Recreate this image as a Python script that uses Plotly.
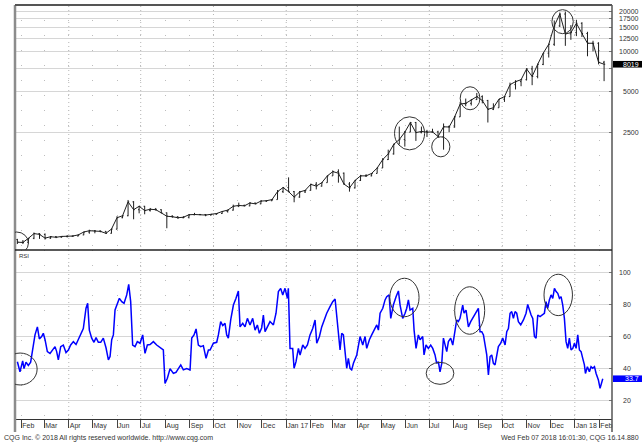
import numpy as np
import pandas as pd
import plotly.graph_objects as go

# ---------------- Bitcoin weekly bars (mid-week dates) ----------------
week_first = "2016-01-27"
price_open = [395, 378, 376, 404, 438, 432, 405, 415, 411, 417, 418, 420, 428, 450, 460, 458, 455, 440, 473, 575,
              595, 755, 660, 700, 650, 665, 660, 625, 590, 585, 575, 580, 605, 608, 608, 602, 610, 618, 640, 655,
              700, 710, 705, 740, 730, 765, 770, 785, 900, 965, 900, 820, 895, 920, 1020, 990, 1050, 1180, 1270, 1235,
              1025, 960, 1090, 1180, 1180, 1230, 1350, 1560, 1720, 2030, 2200, 2500, 2950, 2480, 2530, 2500, 2510, 2320,
              2740, 2730, 3250, 4050, 4100, 4370, 4600, 4300, 3700, 3800, 4400, 4600, 5650, 5950, 6150, 7400, 6500,
              8000, 9700, 11300, 15500, 19000, 13500, 13800, 16200, 13600, 11500, 11500, 8300]
price_high = [400, 392, 406, 446, 441, 439, 420, 420, 420, 425, 425, 432, 452, 468, 465, 462, 458, 475, 590, 600,
              780, 765, 705, 705, 680, 680, 665, 630, 600, 590, 590, 612, 625, 612, 612, 612, 620, 645, 660, 720,
              745, 720, 750, 745, 775, 775, 790, 925, 975, 1150, 910, 910, 925, 1030, 1060, 1050, 1190, 1290, 1320, 1250,
              1060, 1100, 1200, 1215, 1240, 1360, 1600, 1850, 2050, 2750, 2550, 2980, 2980, 2750, 2600, 2650, 2560, 2900,
              2800, 3300, 4200, 4450, 4400, 4900, 4700, 4350, 4100, 4400, 4650, 5850, 6100, 6200, 7500, 7800, 8100,
              9700, 11400, 17000, 19500, 19800, 15700, 17200, 16500, 14000, 12000, 11700, 8500]
price_low = [366, 366, 370, 398, 400, 395, 400, 405, 408, 410, 415, 418, 426, 437, 440, 448, 435, 438, 470, 570,
             590, 560, 620, 610, 640, 650, 620, 480, 575, 565, 570, 568, 600, 600, 590, 598, 605, 615, 628, 650,
             690, 700, 700, 725, 725, 755, 765, 785, 880, 890, 750, 810, 880, 915, 935, 980, 1050, 1180, 1050, 1010,
             900, 950, 1080, 1160, 1170, 1230, 1350, 1550, 1700, 2030, 1950, 2500, 2150, 2450, 2300, 2480, 2270, 1850,
             2500, 2700, 3250, 3900, 3950, 4350, 4100, 2950, 3650, 3800, 4200, 4600, 5200, 5500, 6100, 5600, 6300,
             7900, 9000, 11000, 15200, 11000, 12200, 13000, 12800, 9200, 10000, 8000, 6000]
price_close = [378, 376, 404, 438, 432, 405, 415, 411, 417, 418, 420, 428, 450, 460, 458, 455, 440, 473, 575, 595,
               755, 660, 700, 650, 665, 660, 625, 590, 585, 575, 580, 605, 608, 608, 602, 610, 618, 640, 655, 700,
               710, 705, 740, 730, 765, 770, 785, 900, 965, 900, 820, 895, 920, 1020, 990, 1050, 1180, 1270, 1235, 1025,
               960, 1090, 1180, 1180, 1230, 1350, 1560, 1720, 2030, 2200, 2500, 2950, 2480, 2530, 2500, 2510, 2320, 2740,
               2730, 3250, 4050, 4100, 4370, 4600, 4300, 3700, 3800, 4400, 4600, 5650, 5950, 6150, 7400, 6500, 8000,
               9700, 11300, 15500, 19000, 13500, 13800, 16200, 13600, 11500, 11500, 8300, 8019]

# ---------------- RSI (days counted from 24 Jan 2016) ----------------
rsi_origin = "2016-01-24"
rsi_day = [3.0, 6.3, 9.7, 11.4, 13.9, 16.9, 19.8, 22.4, 25.3, 28.3, 30.8, 33.7, 35.8, 38.0, 40.9, 44.3, 47.6, 50.6,
           52.7, 54.8, 57.8, 61.1, 64.5, 67.5, 70.4, 73.8, 77.2, 80.1, 83.1, 86.4, 89.8, 91.9, 94.0, 97.0, 99.9, 102.5,
           105.4, 108.4, 111.7, 115.1, 118.1, 120.2, 122.3, 124.4, 126.5, 128.6, 132.0, 135.0, 137.9, 141.3, 143.8,
           146.3, 148.8, 151.8, 154.7, 158.1, 161.5, 164.4, 167.4, 170.8, 175.0, 179.2, 183.4, 187.6, 189.7, 192.7,
           196.1, 200.3, 203.6, 206.6, 209.6, 212.9, 217.1, 221.4, 223.5, 226.4, 229.0, 231.9, 234.9, 238.2, 241.6,
           244.6,
           246.7, 250.9, 255.1, 257.2, 260.1, 262.7, 265.6, 267.7, 269.8, 272.8, 276.2, 279.5, 282.5, 284.6, 288.0,
           290.9, 293.9, 297.2, 300.6, 303.6, 306.5, 309.0, 312.0, 314.1, 316.2, 319.2, 322.5, 326.8, 330.1, 333.1,
           336.0, 338.6, 341.5, 344.5, 345.7, 347.8, 351.2, 352.9, 355.4, 358.4, 360.5, 363.9, 366.8, 369.8, 373.1,
           376.5, 379.5, 381.6, 385.0, 387.9, 390.9, 394.2, 398.4, 401.8, 404.8, 406.9, 409.0, 411.1, 413.2, 415.3,
           417.4, 419.5, 421.6, 423.7, 425.8, 428.0, 432.2, 434.3, 436.4, 439.8, 442.7, 444.8, 448.2, 451.1, 454.1,
           457.5, 459.6, 461.7, 465.1, 468.0, 470.1, 473.1, 475.2, 478.5, 481.9, 484.9, 487.0, 490.3, 493.3, 495.4,
           497.5,
           499.6, 503.0, 504.7, 507.2, 510.1, 512.3, 515.6, 517.3, 519.8, 522.8, 525.7, 528.3, 531.2, 533.3, 535.4,
           537.5, 539.7, 541.8, 543.9, 546.0, 548.1, 551.0, 553.6, 555.3, 558.6, 560.7, 562.8, 566.2, 567.9, 570.4,
           573.4, 576.3, 579.7, 582.7, 586.0, 588.1, 590.3, 592.4, 594.5, 596.6, 598.7, 600.8, 602.9, 605.0, 607.1,
           609.2, 611.3, 614.3, 616.8, 619.8, 621.9, 624.0, 626.1, 628.2, 630.3, 632.4, 634.5, 636.6, 639.6, 643.0,
           646.3, 648.4, 650.5, 652.7, 654.8, 656.9, 659.0, 661.1, 664.0, 667.4, 669.5, 671.6, 673.7, 675.8, 678.0,
           680.1, 682.2, 684.3, 686.4, 688.5, 690.6, 692.7, 694.8, 696.9, 699.0, 701.1, 703.2, 705.4, 707.5, 709.6,
           711.7, 713.8, 715.9, 718.0, 720.1, 721.4, 723.9, 726.4, 728.5, 730.6, 732.8, 734.9, 737.8, 739.9, 742.1,
           743.3]
rsi_value = [44.3, 38, 44.8, 40, 44, 42, 44, 52.6, 61, 66, 58.5, 60, 62, 58, 50.6, 49.5, 51.6, 53.7,
             50.6, 45.4, 53.7, 54.7, 50, 51.6, 54.7, 56.8, 55, 58, 62, 65, 77.6, 80.7, 64, 59, 56.4, 59.3,
             56.4, 56.4, 59, 53, 45.4, 47.5, 58, 61, 76.5, 79.6, 83.8, 81.7, 80.7, 85.9, 92.5,
             81.7, 54.7, 53.7, 56.8, 55.8, 61, 49.5, 54.7, 55, 56.8, 54.7, 53, 51.6, 30.8, 34,
             40, 37, 37.7, 40, 42.3, 39.2, 40, 39.2, 59, 61, 64.7, 54.7, 53.7, 54.3, 46.4,
             51.6,
             51.6, 55.8, 56.4, 61, 69.3, 66.8, 68.2, 61, 59, 70.3, 79.6, 83.8, 88.4, 66, 68.2,
             66, 71.3, 67.2, 71.3, 64, 67.2, 62, 65.5, 73.4, 63, 66, 69.3, 67.2, 74.5, 88,
             90, 85.9, 90, 83.8, 90, 52.6, 52.6, 40.2, 44.3, 52.6, 48.5, 54.7, 52.6, 54.7, 61,
             65, 70.3, 55.8, 60, 66, 70.3, 74.5, 78.6, 81.7, 83.4, 73.4, 61, 51.6, 62, 61,
             50.6, 40.2, 46.4, 40.2, 39.2, 43.3, 48.5, 55.8, 60, 54.7, 60, 52.6, 58, 61, 64,
             67.2, 64, 74.5, 77.6, 82.8, 84.8, 85.9, 71.3, 79.6, 84.8, 88.4, 79.6, 71.3, 74.5, 77.6,
             82.8,
             76.5, 77.6, 64, 52.6, 61, 58, 60, 48.5, 54.7, 52.6, 54.7, 52.6, 48.5, 43.3, 44.3,
             38, 43.3, 59, 53.7, 50.6, 56.8, 59, 54.7, 60, 70.3, 69.3, 71.3, 79.6, 74.5, 76.5,
             66, 69.3, 72.4, 74.5, 77.6, 63, 63, 61, 53.7, 48.5, 36, 47.5, 48.5, 43.3, 42.3,
             48.5, 53.7, 55.8, 59, 54.7, 63, 65, 74.5, 75.5, 71.3, 75.5, 74.5, 69.3, 67.2, 70.3,
             74.5, 80, 76.5, 73.4, 71.3, 60, 59, 73.4, 72.4, 73.4, 74.5, 81.7, 77.6, 82.8, 85.9,
             83.8, 90, 88, 86.9, 83.8, 84.8, 79.6, 71.3, 56.8, 52.6, 59, 51.6, 52.6, 55.8, 52.6,
             61, 51.6, 50.6, 46.4, 42.3, 37, 41.2, 38, 41.2, 40.2, 41.2, 37, 32.9, 27.7, 31.9,
             33.7]

price_grid = [2500, 5000, 7500, 10000, 12500, 15000, 17500, 20000]
price_labels = [2500, 5000, 10000, 12500, 15000, 17500, 20000]   # 7500 sits under the last-price box
rsi_ticks = [20, 40, 60, 80, 100]

# hand-drawn highlight ellipses: (date from, date to, low, high)
price_marks = [("2016-01-11", "2016-02-10", 308, 450),
               ("2017-05-18", "2017-06-25", 1843, 3253),
               ("2017-07-04", "2017-07-27", 1636, 2307),
               ("2017-08-09", "2017-09-03", 3670, 5450),
               ("2017-12-03", "2017-12-30", 13560, 20480)]
rsi_marks = [("2016-01-09", "2016-02-21", 29.8, 49.7),
             ("2017-05-12", "2017-06-18", 72.3, 96.3),
             ("2017-06-27", "2017-08-01", 30.2, 43.9),
             ("2017-08-02", "2017-09-09", 61.4, 91.0),
             ("2017-11-23", "2017-12-29", 73.0, 98.8)]

x_range = ["2016-01-24", "2018-02-17"]

# ---------------- derived series ----------------
week_dates = pd.date_range(week_first, periods=len(price_close), freq="7D")
rsi_dates = pd.Timestamp(rsi_origin) + pd.to_timedelta(rsi_day, unit="D")
months = pd.date_range("2016-02-01", "2018-02-01", freq="MS")
month_text = [d.strftime("%b %y") if d.month == 1 else d.strftime("%b") for d in months]
quarters = pd.date_range("2016-04-01", "2018-01-01", freq="QS")

W, H = 642, 444
ML, MR, MT, MB = 15, 30, 5, 25
plot_w, plot_h = W - ML - MR, H - MT - MB
split = (H - MB - 250) / plot_h          # RSI pane below, price pane above


def px_x(px):
    return (px - ML) / plot_w


def px_y(py):
    return (H - MB - py) / plot_h


bar_col = "#1f1f1f"
fig = go.Figure()
# high-low range of each bar
fig.add_trace(go.Ohlc(
    x=week_dates, open=price_open, high=price_high, low=price_low, close=price_close,
    increasing=dict(line=dict(color=bar_col, width=1)),
    decreasing=dict(line=dict(color=bar_col, width=1)),
    tickwidth=0.2, xaxis="x", yaxis="y", showlegend=False, hoverinfo="skip"))
# closing prices joined bar to bar
fig.add_trace(go.Scatter(
    x=week_dates, y=price_close, mode="lines",
    line=dict(color=bar_col, width=1),
    xaxis="x", yaxis="y", showlegend=False, hoverinfo="skip"))
fig.add_trace(go.Scatter(
    x=rsi_dates, y=rsi_value, mode="lines",
    line=dict(color="#0000ff", width=1.5),
    xaxis="x2", yaxis="y2", showlegend=False, hoverinfo="skip"))

tick_font = dict(family="Liberation Sans, Arial, sans-serif", size=7, color="#333333")
grid_col = "#d6d6d6"

fig.update_layout(
    width=W, height=H, margin=dict(l=ML, r=MR, t=MT, b=MB),
    paper_bgcolor="white", plot_bgcolor="white",
    xaxis=dict(domain=[0, 1], anchor="y", type="date", range=x_range,
               tickvals=months, showticklabels=False, ticks="",
               showgrid=True, gridcolor="#bdbdbd", griddash="1px,14px", gridwidth=1,
               zeroline=False, rangeslider=dict(visible=False)),
    xaxis2=dict(domain=[0, 1], anchor="y2", type="date", range=x_range, matches="x",
                tickvals=months, ticktext=month_text, tickangle=0,
                ticks="outside", ticklen=8, tickcolor="#444444", tickwidth=1,
                ticklabelposition="outside right",
                tickfont=dict(family="Liberation Sans, Arial, sans-serif", size=7, color="#333333"),
                showgrid=True, gridcolor="#bdbdbd", griddash="1px,14px", gridwidth=1,
                showline=True, linecolor="#333333", linewidth=1, zeroline=False),
    yaxis=dict(domain=[split, 1], anchor="x", type="log",
               range=[2.519, 4.346], side="right",
               tickvals=price_grid, showticklabels=False,
               ticks="inside", ticklen=3, tickcolor="#777777",
               showgrid=True, gridcolor=grid_col, gridwidth=1, zeroline=False),
    yaxis2=dict(domain=[0, split], anchor="x2", range=[8.6, 113.9], side="right",
                tickvals=rsi_ticks, showticklabels=False,
                ticks="inside", ticklen=3, tickcolor="#777777",
                showgrid=True, gridcolor=grid_col, gridwidth=1, zeroline=False),
)

shapes = []
# quarterly dotted guides through both panes
for q in quarters:
    shapes.append(dict(type="line", xref="x", yref="paper", x0=q, x1=q, y0=0, y1=1,
                       line=dict(color="#b5b5b5", width=1, dash="1px,3px"), layer="below"))
# frame
shapes += [
    dict(type="line", xref="paper", yref="paper", x0=0, x1=0, y0=px_y(432), y1=1,
         line=dict(color="#8c8c8c", width=2.5)),
    dict(type="line", xref="paper", yref="paper", x0=1, x1=1, y0=px_y(432), y1=1,
         line=dict(color="#555555", width=1.5)),
    dict(type="line", xref="paper", yref="paper", x0=0, x1=1, y0=1, y1=1,
         line=dict(color="#555555", width=2)),
    dict(type="line", xref="paper", yref="paper", x0=0, x1=1, y0=split, y1=split,
         line=dict(color="#222222", width=1.5)),
]
# highlight ellipses
for a, b, lo, hi in price_marks:
    shapes.append(dict(type="circle", xref="x", yref="y", x0=a, x1=b, y0=lo, y1=hi,
                       line=dict(color="#333333", width=1)))
for a, b, lo, hi in rsi_marks:
    shapes.append(dict(type="circle", xref="x2", yref="y2", x0=a, x1=b, y0=lo, y1=hi,
                       line=dict(color="#333333", width=1)))

# last-value boxes on the right scale
last_price = price_close[-1]
last_rsi = rsi_value[-1]
box_half_px = 3.3
shapes.append(dict(type="rect", xref="paper", yref="y",
                   x0=px_x(613), x1=px_x(642),
                   y0=last_price / 10 ** (box_half_px / 133.9), y1=last_price * 10 ** (box_half_px / 133.9),
                   fillcolor="#000000", line=dict(width=0)))
shapes.append(dict(type="rect", xref="paper", yref="y2",
                   x0=px_x(613), x1=px_x(642),
                   y0=last_rsi - box_half_px / 1.605, y1=last_rsi + box_half_px / 1.605,
                   fillcolor="#0000ff", line=dict(width=0)))
fig.update_layout(shapes=shapes)

ann = []
for v in price_labels:
    ann.append(dict(xref="paper", yref="y", x=px_x(641), y=np.log10(v), text=str(v),
                    xanchor="right", yanchor="middle", showarrow=False, font=tick_font))
for v in rsi_ticks:
    ann.append(dict(xref="paper", yref="y2", x=px_x(633), y=v, text=str(v),
                    xanchor="right", yanchor="middle", showarrow=False, font=tick_font))
ann.append(dict(xref="paper", yref="y", x=px_x(641), y=np.log10(last_price), text=str(last_price),
                xanchor="right", yanchor="middle", showarrow=False,
                font=dict(family=tick_font["family"], size=7, color="white")))
ann.append(dict(xref="paper", yref="y2", x=px_x(641), y=last_rsi, text=f"{last_rsi:.1f}",
                xanchor="right", yanchor="middle", showarrow=False,
                font=dict(family=tick_font["family"], size=7, color="white")))
ann.append(dict(xref="paper", yref="paper", x=px_x(16.5), y=px_y(256), text="RSI",
                xanchor="left", yanchor="middle", showarrow=False,
                font=dict(family=tick_font["family"], size=6, color="#333333")))
ann.append(dict(xref="paper", yref="paper", x=px_x(2), y=px_y(438),
                text="CQG Inc. © 2018 All rights reserved worldwide. http://www.cqg.com",
                xanchor="left", yanchor="middle", showarrow=False,
                font=dict(family=tick_font["family"], size=7, color="#333333")))
ann.append(dict(xref="paper", yref="paper", x=px_x(641), y=px_y(438),
                text="Wed Feb 07 2018 16:01:30, CQG 16.14.880",
                xanchor="right", yanchor="middle", showarrow=False,
                font=dict(family=tick_font["family"], size=7, color="#333333")))
fig.update_layout(annotations=ann)

fig.write_html("out.html")
